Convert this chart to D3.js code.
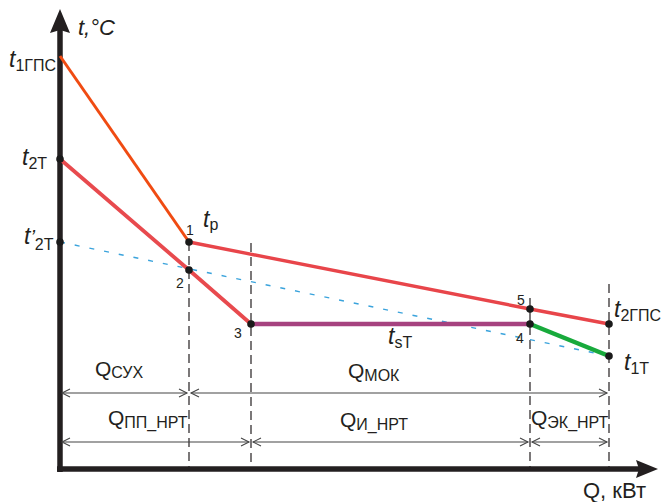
<!DOCTYPE html>
<html><head><meta charset="utf-8">
<script src="https://cdn.jsdelivr.net/npm/d3@7"></script>
<style>
html,body{margin:0;padding:0;background:#fff;}
svg{display:block;}
text{font-family:"Liberation Sans",Arial,sans-serif;fill:#231f20;}
</style></head>
<body>
<svg id="chart" width="661" height="502"></svg>
<script>
// ---- Data (Q in arbitrary units, t in arbitrary units) ----
const qBounds = [0, 129, 191, 470, 549];          // 0, Q_p, Q_3, Q_4, Q_end
const hotInlet   = [[0, 413], [129, 227]];          // t1ГПС -> 1 (tр)
const hotOutlet  = [[129, 227], [470, 160], [549, 145]]; // 1 -> 5 -> t2ГПС
const coldHeat   = [[0, 310], [129, 199], [191, 145]];   // t2T -> 2 -> 3
const evapLine   = [[191, 145], [470, 145]];        // 3 -> 4 (tsT)
const ecoLine    = [[470, 145], [549, 113]];        // 4 -> t1T
const refLine    = [[0, 227], [549, 113]];          // t'2T -> t1T
const dotPoints  = [[0, 310], [0, 227], [129, 227], [129, 199], [191, 145], [470, 145], [470, 160], [549, 145], [549, 113]];
const vLineTops  = [[129, 227], [191, 226], [470, 171], [549, 185]];
const pointNames = ["1", "2", "3", "4", "5"];
const rowTop     = [["СУХ", 0, 129], ["МОК", 129, 549]];
const rowBottom  = [["ПП_НРТ", 0, 191], ["И_НРТ", 191, 470], ["ЭК_НРТ", 470, 549]];

// ---- Scales ----
const x = d3.scaleLinear().domain([0, 600]).range([60, 660]);
const y = d3.scaleLinear().domain([0, 460]).range([469, 9]);
const svg = d3.select("#chart");
const line = d3.line().x(d => x(d[0])).y(d => y(d[1]));

// ---- Axes ----
const axisCol = "#231f20";
svg.append("line").attr("x1", x(0)).attr("x2", x(0)).attr("y1", 30).attr("y2", y(0) + 3)
  .attr("stroke", axisCol).attr("stroke-width", 5.5);
svg.append("line").attr("x1", x(0) - 3).attr("x2", 640).attr("y1", y(0)).attr("y2", y(0))
  .attr("stroke", axisCol).attr("stroke-width", 5.5);
svg.append("path").attr("d", `M${x(0)},9 L${x(0)+10},33 L${x(0)},30 L${x(0)-10},33 Z`).attr("fill", axisCol);
svg.append("path").attr("d", `M658,${y(0)} L636,${y(0)-9} L639,${y(0)} L636,${y(0)+9} Z`).attr("fill", axisCol);

// ---- Vertical dashed lines ----
svg.selectAll(".vl").data(vLineTops).enter().append("line")
  .attr("x1", d => x(d[0])).attr("x2", d => x(d[0]))
  .attr("y1", d => y(d[1])).attr("y2", y(0) - 2)
  .attr("stroke", "#231f20").attr("stroke-width", 1.2).attr("stroke-dasharray", "9,5");

// ---- Blue dashed reference line ----
svg.append("path").attr("d", line(refLine)).attr("fill", "none")
  .attr("stroke", "#3aa3dc").attr("stroke-width", 1.4).attr("stroke-dasharray", "5,10");

// ---- Process lines ----
svg.append("path").attr("d", line(coldHeat)).attr("fill", "none").attr("stroke", "#e84a4e").attr("stroke-width", 3.8);
svg.append("path").attr("d", line(hotOutlet)).attr("fill", "none").attr("stroke", "#e8454a").attr("stroke-width", 3.4);
svg.append("path").attr("d", line(hotInlet)).attr("fill", "none").attr("stroke", "#f04b12").attr("stroke-width", 3);
svg.append("path").attr("d", line(evapLine)).attr("fill", "none").attr("stroke", "#a6427f").attr("stroke-width", 4.5);
svg.append("path").attr("d", line(ecoLine)).attr("fill", "none").attr("stroke", "#18aa3c").attr("stroke-width", 4.5);

svg.selectAll(".dot").data(dotPoints).enter().append("circle")
  .attr("cx", d => x(d[0])).attr("cy", d => y(d[1])).attr("r", 3.8).attr("fill", "#1a1a1a");

// ---- Label helper ----
function lab(px, py, main, sub, o = {}) {
  const fs = o.fs || 23, sfs = o.sfs || 16;
  const t = svg.append("text").attr("x", px).attr("y", py).attr("font-size", fs);
  t.append("tspan").text(main).attr("font-style", o.italic ? "italic" : "normal");
  if (o.prime) t.append("tspan").text("’").attr("font-style", "italic").attr("font-size", 20);
  if (sub) t.append("tspan").text(sub).attr("font-size", sfs).attr("dy", o.dy != null ? o.dy : 4);
  return t;
}

// axis titles
lab(78, 35, "t,°C", null, {italic: true, fs: 22});
svg.append("text").attr("x", 583).attr("y", 498).attr("font-size", 22).text("Q, кВт");

// temperature labels
lab(9, 67, "t", "1ГПС", {italic: true});
lab(22, y(310) + 6, "t", "2T", {italic: true});
lab(24, y(227) + 2, "t", "2T", {italic: true, prime: true, dy: 6});
lab(203, 227, "t", "р", {italic: true, dy: 3});
lab(614, y(145) - 7, "t", "2ГПС", {italic: true});
lab(624, y(113) + 14, "t", "1T", {italic: true});
lab(388, 344, "t", "sT", {italic: true});

// point numbers
const numPos = [[186, 235], [176, 288], [234, 338], [516, 343], [517, 305]];
svg.selectAll(".num").data(pointNames).enter().append("text")
  .attr("x", (d, i) => numPos[i][0]).attr("y", (d, i) => numPos[i][1])
  .attr("font-size", 14).text(d => d);

// ---- Dimension arrows ----
function dimRow(rows, py) {
  rows.forEach(r => {
    const a = x(r[1]) + 2, b = x(r[2]) - 2;
    svg.append("line").attr("x1", a).attr("x2", b).attr("y1", py).attr("y2", py)
      .attr("stroke", "#444").attr("stroke-width", 1.1);
    svg.append("path").attr("d", `M${a+8},${py-4} L${a},${py} L${a+8},${py+4}`)
      .attr("fill", "none").attr("stroke", "#444").attr("stroke-width", 1.1);
    svg.append("path").attr("d", `M${b-8},${py-4} L${b},${py} L${b-8},${py+4}`)
      .attr("fill", "none").attr("stroke", "#444").attr("stroke-width", 1.1);
  });
}
dimRow(rowTop, 393);
dimRow(rowBottom, 442);

lab(95, 376, "Q", rowTop[0][0], {fs: 21, sfs: 16, dy: 2});
lab(348, 378, "Q", rowTop[1][0], {fs: 21, sfs: 16, dy: 3});
lab(108, 425, "Q", rowBottom[0][0], {fs: 21, sfs: 16, dy: 3});
lab(340, 427, "Q", rowBottom[1][0], {fs: 21, sfs: 16, dy: 3});
lab(531, 425, "Q", rowBottom[2][0], {fs: 21, sfs: 16, dy: 3});
</script>
</body></html>
